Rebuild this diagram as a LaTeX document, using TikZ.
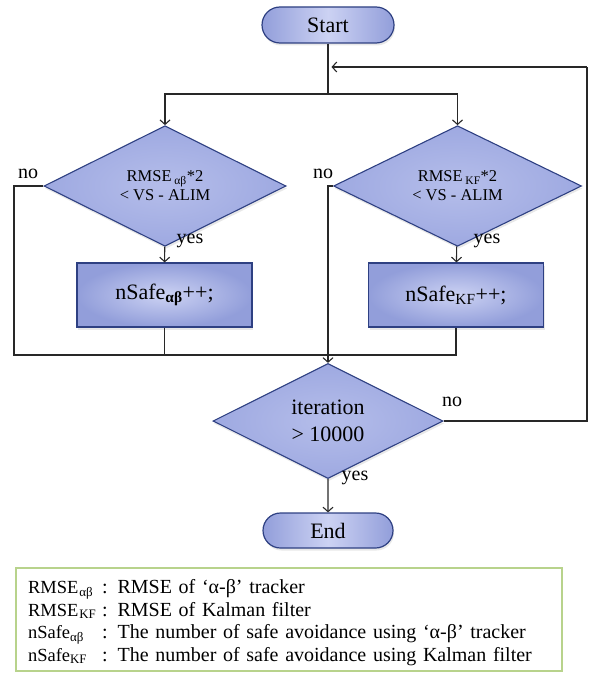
\documentclass[tikz,border=0pt]{standalone}
\usepackage{fontspec}
\setmainfont{Liberation Serif}
\usetikzlibrary{arrows.meta,shapes.geometric,shapes.misc,shadows}

\definecolor{navy}{RGB}{46,64,130}
\definecolor{peri}{RGB}{158,169,225}
\definecolor{perilight}{RGB}{204,210,243}
\definecolor{peridark}{RGB}{146,158,218}
\definecolor{wire}{RGB}{40,40,40}
\definecolor{leafgreen}{RGB}{184,211,140}

\newcommand{\keylabel}[1]{\makebox[74pt][l]{\fontsize{18.5}{22}\selectfont #1}}

\tikzset{
    softshadow/.style={drop shadow={opacity=0.18,shadow xshift=1pt,shadow yshift=-2.5pt}},
    terminal/.style={rounded rectangle,draw=navy,line width=1.2pt,left color=peridark,right color=peridark,middle color=perilight,
        minimum width=132pt,minimum height=36pt,inner sep=0pt,font=\fontsize{22}{24}\selectfont,softshadow},
    decision/.style={diamond,draw=navy,line width=1.1pt,inner color=perilight!50!peri,outer color=peri,
        minimum width=242pt,minimum height=82pt,inner sep=0pt,align=center,font=\fontsize{16.5}{19}\selectfont,softshadow},
    process/.style={rectangle,draw=navy,line width=1.2pt,inner color=perilight,outer color=peridark,
        minimum width=175pt,minimum height=64pt,font=\fontsize{22}{24}\selectfont,softshadow},
    flow/.style={draw=wire,line width=1.1pt},
    flowarrow/.style={flow,-{Straight Barb[length=4.5pt,width=10pt,line width=1.1pt]}},
    tag/.style={inner sep=0pt,font=\fontsize{20}{22}\selectfont},
    keybox/.style={rectangle,draw=leafgreen,line width=1.2pt,minimum width=546pt,minimum height=103pt,
        text width=522pt,inner xsep=12pt,align=left,font=\fontsize{20}{22.5}\selectfont}
}

\begin{document}
\begin{tikzpicture}[x=1pt,y=-1pt]

    \useasboundingbox (0,0) rectangle (589,674);

    % start and fork towards both filters
    \node[terminal] (start) at (328,25) {Start};
    \coordinate (join) at (331.5,67);
    \coordinate (fork) at (328,94);
    \draw[flow] (start) -- (fork);

    % check for the alpha-beta tracker
    \node[decision] (chkab) at (165,186) {RMSE\,\textsubscript{αβ}*2\\< VS - ALIM};
    \draw[flowarrow] (fork) -| (chkab);

    % check for the Kalman filter
    \node[decision,minimum width=248pt] (chkkf) at (457.5,186) {RMSE\,\textsubscript{KF}*2\\< VS - ALIM};
    \draw[flowarrow] (fork) -| (chkkf);

    %%%%%%%%%%%%%%%%%%%%%%%%%%%%%%%%%%%%%%%%%%%%%%%%%%%%%%

    % counters of safe avoidance
    \node[process] (incab) at (164.5,295) {nSafe\textsubscript{\textbf{αβ}}++;};
    \node[process] (inckf) at (456,295) {nSafe\textsubscript{KF}++;};
    \draw[flowarrow] (chkab) -- (incab);
    \draw[flowarrow] (chkkf) -- (inckf);
    \node[tag] (yesab) at (190,240.5) {yes};
    \node[tag] (yeskf) at (487,240.5) {yes};

    % merge of both branches
    \coordinate (mergeL) at (14,355);
    \coordinate (mergeR) at (456,355);
    \node[tag] (noab) at (28,173.5) {no};
    \node[tag] (nokf) at (323,173.5) {no};
    \draw[flow] (chkab.west) -- (mergeL |- chkab.west) -- (mergeL) -- (mergeR) -- (inckf);
    \draw[flow] (incab) -- (incab |- mergeL);

    %%%%%%%%%%%%%%%%%%%%%%%%%%%%%%%%%%%%%%%%%%%%%%%%%%%%%%

    % iteration check
    \node[decision,minimum width=230pt,minimum height=72pt,font=\fontsize{22}{27}\selectfont] (iter) at (328,421) {iteration\\> 10000};
    \draw[flowarrow] (chkkf.west) -- (chkkf.west -| iter.north) -- (iter);

    % loop back to the fork
    \coordinate (loopT) at (587,67);
    \node[tag] (noit) at (452,402) {no};
    \draw[flow] (iter.east) -| (loopT);
    \draw[flowarrow] (loopT) -- (join);

    % end
    \node[terminal,minimum width=130pt,minimum height=35pt] (stop) at (328,530.5) {End};
    \draw[flowarrow] (iter) -- (stop);
    \node[tag] (yesit) at (355,478) {yes};

    %%%%%%%%%%%%%%%%%%%%%%%%%%%%%%%%%%%%%%%%%%%%%%%%%%%%%%

    % legend
    \node[keybox] (key) at (289,619.5) {%
        \rule{0pt}{20pt}\keylabel{RMSE\kern1pt\textsubscript{αβ}}: RMSE of ‘α-β’ tracker\\
        \keylabel{RMSE\kern1pt\textsubscript{KF}}: RMSE of Kalman filter\\
        \keylabel{nSafe\textsubscript{αβ}}: The number of safe avoidance using ‘α-β’ tracker\\
        \keylabel{nSafe\textsubscript{KF}}: The number of safe avoidance using Kalman filter};

\end{tikzpicture}
\end{document}
